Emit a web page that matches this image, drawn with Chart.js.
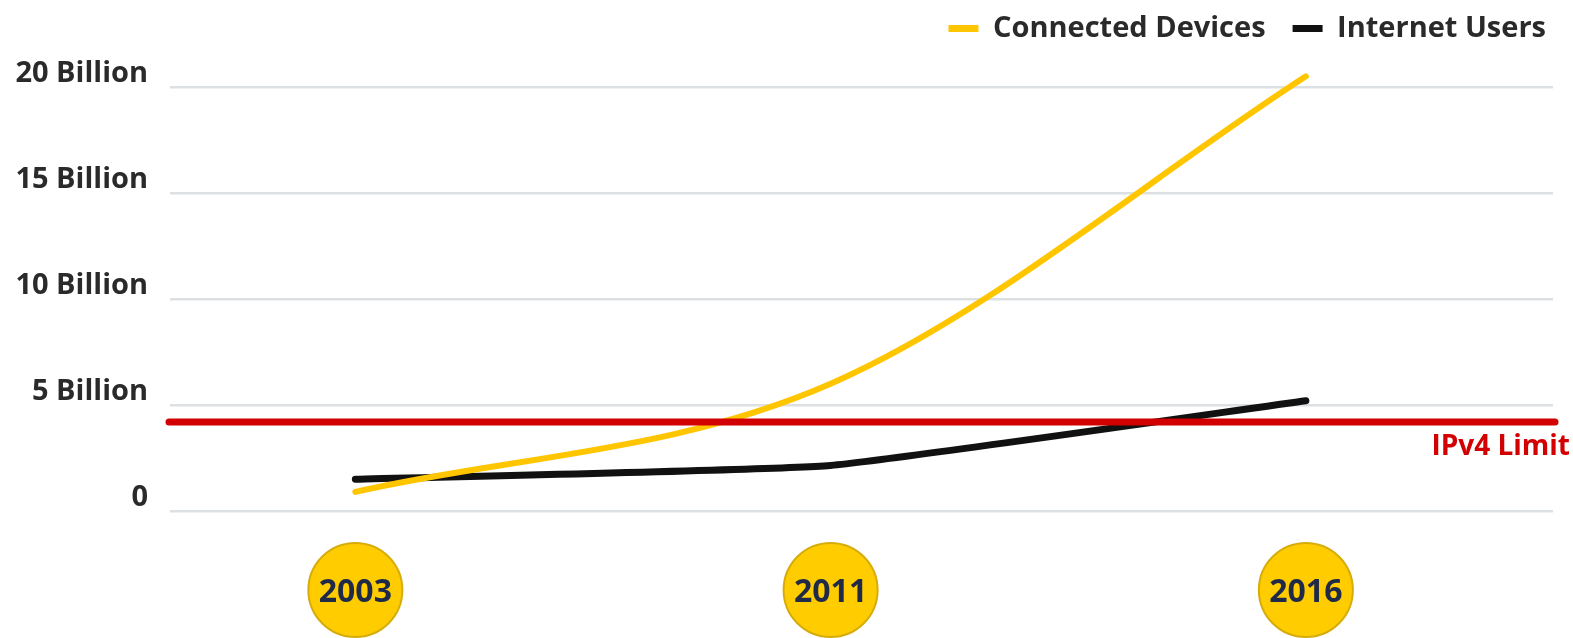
<!DOCTYPE html>
<html>
<head>
<meta charset="utf-8">
<script src="https://cdn.jsdelivr.net/npm/chart.js@4/dist/chart.umd.min.js"></script>
<style>
  html, body { margin: 0; padding: 0; background: #fff; }
  #wrap { width: 1573px; height: 638px; }
</style>
</head>
<body>
<div id="wrap"><canvas id="graph"></canvas></div>
<script>
// Chart data (billions)
const years = ['2003', '2011', '2016'];
const connectedDevices = [0.9, 6.0, 20.5];
const internetUsers = [1.5, 2.15, 5.2];
const ipv4Limit = 4.2;
const yTicks = [0, 5, 10, 15, 20];
const yTickLabels = ['0', '5 Billion', '10 Billion', '15 Billion', '20 Billion'];

const toPoints = (vals) => vals.map((v, i) => ({ x: i, y: v }));

// Yellow year badges behind the x tick labels
const yearBadges = {
  id: 'yearBadges',
  beforeDraw(chart) {
    const ctx = chart.ctx;
    const xs = chart.scales.x;
    ctx.save();
    xs.ticks.forEach(t => {
      const px = xs.getPixelForValue(t.value);
      ctx.beginPath();
      ctx.arc(px, 590, 47, 0, Math.PI * 2);
      ctx.fillStyle = '#FFCC00';
      ctx.fill();
      ctx.lineWidth = 2;
      ctx.strokeStyle = '#D6AC0A';
      ctx.stroke();
    });
    ctx.restore();
  }
};

// IPv4 limit line + label (drawn over the lines)
const limitLine = {
  id: 'limitLine',
  afterDatasetsDraw(chart) {
    const ctx = chart.ctx;
    const area = chart.chartArea;
    const y = chart.scales.y.getPixelForValue(ipv4Limit);
    ctx.save();
    ctx.beginPath();
    ctx.moveTo(area.left - 1, y);
    ctx.lineTo(area.right + 2, y);
    ctx.lineWidth = 7;
    ctx.lineCap = 'round';
    ctx.strokeStyle = '#D20000';
    ctx.stroke();
    ctx.font = 'bold 28px "Open Sans"';
    ctx.fillStyle = '#D20000';
    ctx.textAlign = 'right';
    ctx.textBaseline = 'middle';
    ctx.fillText('IPv4 Limit', area.right + 17, y + 25);
    ctx.restore();
  }
};

const ctx = document.getElementById('graph').getContext('2d');
const lineChart = new Chart(ctx, {
  type: 'line',
  data: {
    datasets: [{
      label: 'Connected Devices',
      data: toPoints(connectedDevices),
      borderColor: '#FFC600',
      backgroundColor: '#FFC600',
      borderWidth: 6,
      borderCapStyle: 'round',
      cubicInterpolationMode: 'monotone',
      pointRadius: 0,
      clip: false,
    }, {
      label: 'Internet Users',
      data: toPoints(internetUsers),
      borderColor: '#111111',
      backgroundColor: '#111111',
      borderWidth: 7,
      borderCapStyle: 'round',
      tension: 0.12,
      pointRadius: 0,
      clip: false,
    }]
  },
  options: {
    responsive: true,
    maintainAspectRatio: false,
    animation: false,
    layout: { padding: { top: -13, right: 0, left: 0, bottom: 0 } },
    plugins: {
      tooltip: { enabled: false },
      legend: {
        position: 'top',
        align: 'end',
        labels: {
          boxWidth: 30,
          boxHeight: 7,
          padding: 27,
          color: '#2a2a2a',
          font: { family: '"Open Sans"', size: 29, weight: 'bold' },
          generateLabels: (chart) => Chart.defaults.plugins.legend.labels.generateLabels(chart)
            .map(l => Object.assign(l, { lineWidth: 0 }))
        }
      }
    },
    scales: {
      x: {
        type: 'linear',
        min: -0.39,
        max: 2.52,
        grid: { display: false, drawTicks: false },
        border: { display: false },
        ticks: {
          stepSize: 1,
          includeBounds: false,
          padding: 63,
          color: '#1F2A48',
          font: { family: '"Open Sans"', size: 32, weight: 'bold' },
          callback: (v) => years[v]
        },
        afterFit: (scale) => { scale.height = 127; }
      },
      y: {
        min: 0,
        max: 21.6,
        grid: { color: '#DDE0E3', lineWidth: 2.5, drawTicks: false },
        border: { display: false },
        afterBuildTicks: (scale) => { scale.ticks = yTicks.map(v => ({ value: v })); },
        ticks: {
          padding: 22,
          labelOffset: -13,
          color: '#2a2a2a',
          font: { family: '"Open Sans"', size: 29, weight: 'bold' },
          callback: (v) => yTickLabels[yTicks.indexOf(v)]
        },
        afterFit: (scale) => { scale.width = 170; }
      },
      // empty right-hand spacer so the plot stops short of the legend's right edge
      spacer: {
        position: 'right',
        grid: { display: false, drawTicks: false },
        border: { display: false },
        ticks: { display: false },
        afterFit: (scale) => { scale.width = 20; }
      }
    }
  },
  plugins: [yearBadges, limitLine]
});
</script>
</body>
</html>
